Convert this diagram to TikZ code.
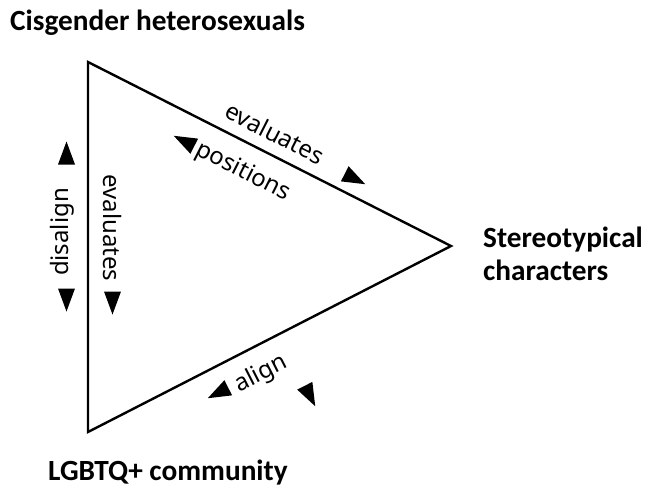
\documentclass[tikz,border=0pt]{standalone}
\usepackage{fontspec}
\setmainfont{Carlito}
\newfontfamily\edgefont{Noto Sans}
\begin{document}
\begin{tikzpicture}[x=1pt,y=-1pt,
  vertexlabel/.style={font=\bfseries\fontsize{29.3}{33}\selectfont, inner sep=0pt},
  edgelabel/.style={font=\edgefont\fontsize{24}{28}\selectfont, inner sep=0pt},
  side/.style={line width=2.4pt, line join=miter}]
\useasboundingbox (0,0) rectangle (647,488);

% corners of the triangle
\coordinate (T) at (88,62);
\coordinate (R) at (451,246);
\coordinate (B) at (88,432);

\draw[side] (T) -- (R) -- (B) -- cycle;

% group labels
\node[vertexlabel, anchor=base west] (cis) at (10,30) {Cisgender heterosexuals};
\node[vertexlabel, anchor=base west] (lgbt) at (48,480) {LGBTQ+ community};
\node[vertexlabel, anchor=base west] (st1) at (483,247) {Stereotypical};
\node[vertexlabel, anchor=base west] (st2) at (483,280) {characters};

% filled arrowheads: position, direction of the tip
\newcommand\tipmark[2]{\fill[shift={(#1)}, rotate=#2] (11.5,0) -- (-11.5,8.5) -- (-11.5,-8.5) -- cycle;}

% left side
\node[edgelabel, rotate=90] (disalign) at (62,232) {disalign};
\tipmark{66.5,153}{90}
\tipmark{66.5,300}{-90}
\node[edgelabel, rotate=-90] (evalL) at (112,228) {evaluates};
\tipmark{112.5,303}{-90}

% upper side
\node[edgelabel, rotate=-26.9] (evalT) at (275,133) {evaluates};
\tipmark{355,179}{-26.9}
\node[edgelabel, rotate=-26.9] (positions) at (243,172) {positions};
\tipmark{184,141}{153.1}

% lower side
\node[edgelabel, rotate=27] (align) at (261,374) {align};
\tipmark{218,393}{207}
\tipmark{310,396}{-63}
\end{tikzpicture}
\end{document}
